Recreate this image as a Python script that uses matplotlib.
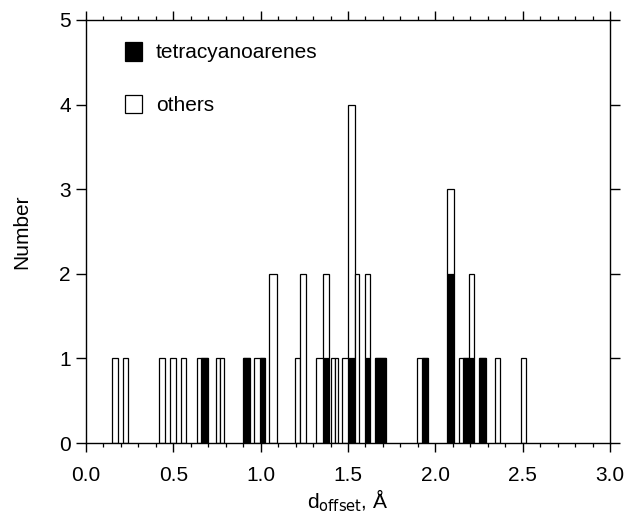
import matplotlib

matplotlib.use("Agg")
import matplotlib.pyplot as plt
from matplotlib.patches import Patch
from matplotlib.ticker import MultipleLocator

plt.rcParams.update(
    {
        "font.family": ["Liberation Sans", "DejaVu Sans"],
        "font.size": 14,
        "axes.linewidth": 1.0,
    }
)

# d_offset bins (Å): left and right edge of each bar
BIN_LO = [0.150, 0.210, 0.418, 0.481, 0.542, 0.633, 0.658, 0.742, 0.765, 0.900,
          0.963, 0.995, 1.049, 1.196, 1.228, 1.316, 1.354, 1.405, 1.425, 1.468,
          1.500, 1.539, 1.596, 1.653, 1.685, 1.895, 1.924, 2.067, 2.136, 2.158,
          2.193, 2.250, 2.340, 2.490]
BIN_HI = [0.185, 0.242, 0.452, 0.513, 0.574, 0.658, 0.700, 0.765, 0.789, 0.938,
          0.995, 1.022, 1.091, 1.228, 1.257, 1.354, 1.392, 1.425, 1.443, 1.500,
          1.539, 1.564, 1.625, 1.685, 1.716, 1.924, 1.958, 2.105, 2.158, 2.193,
          2.222, 2.288, 2.372, 2.520]
# counts per bin
TETRACYANO = [0, 0, 0, 0, 0, 0, 1, 0, 0, 1,
              0, 1, 0, 0, 0, 0, 1, 0, 0, 0,
              1, 0, 1, 1, 1, 0, 1, 2, 0, 1,
              1, 1, 0, 0]
OTHERS = [1, 1, 1, 1, 1, 1, 0, 1, 1, 0,
          1, 0, 2, 1, 2, 1, 1, 1, 1, 1,
          3, 2, 1, 0, 0, 1, 0, 1, 1, 0,
          1, 0, 1, 1]

SERIES_LABELS = ["tetracyanoarenes", "others"]
X_LABEL = "d$_{\\mathrm{offset}}$, Å"
Y_LABEL = "Number"


def main() -> None:
    fig = plt.figure(figsize=(6.3, 5.22), dpi=100)
    ax = fig.add_axes([0.1365, 0.1513, 0.8318, 0.8104])

    widths = [hi - lo for lo, hi in zip(BIN_LO, BIN_HI)]
    ax.bar(BIN_LO, TETRACYANO, width=widths, align="edge", color="black",
           edgecolor="black", linewidth=0.9)
    ax.bar(BIN_LO, OTHERS, width=widths, bottom=TETRACYANO, align="edge",
           color="white", edgecolor="black", linewidth=0.9)

    ax.set_xlim(0.0, 3.0)
    ax.set_ylim(0, 5)
    ax.xaxis.set_major_locator(MultipleLocator(0.5))
    ax.xaxis.set_minor_locator(MultipleLocator(0.1))
    ax.yaxis.set_major_locator(MultipleLocator(1))
    ax.xaxis.set_major_formatter(matplotlib.ticker.FormatStrFormatter("%.1f"))

    ax.tick_params(axis="x", which="major", direction="out", length=6.5, width=1.0,
                   top=True, pad=10, labelsize=15)
    ax.tick_params(axis="x", which="minor", direction="out", length=3, width=0.9, top=True)
    ax.tick_params(axis="y", which="major", direction="out", length=7, width=1.0,
                   right=True, pad=4, labelsize=15)

    ax.set_xlabel(X_LABEL, fontsize=15, labelpad=2)
    ax.set_ylabel(Y_LABEL, fontsize=15, labelpad=20)

    handles = [
        Patch(facecolor="black", edgecolor="black", linewidth=0.9),
        Patch(facecolor="white", edgecolor="black", linewidth=0.9),
    ]
    ax.legend(handles, SERIES_LABELS, loc="upper left", bbox_to_anchor=(0.074, 0.948),
              frameon=False, borderpad=0, borderaxespad=0,
              handlelength=0.85, handleheight=1.0, handletextpad=0.65,
              labelspacing=1.55, fontsize=15)

    fig.savefig("out.png", dpi=100)
    plt.close(fig)


if __name__ == "__main__":
    main()
